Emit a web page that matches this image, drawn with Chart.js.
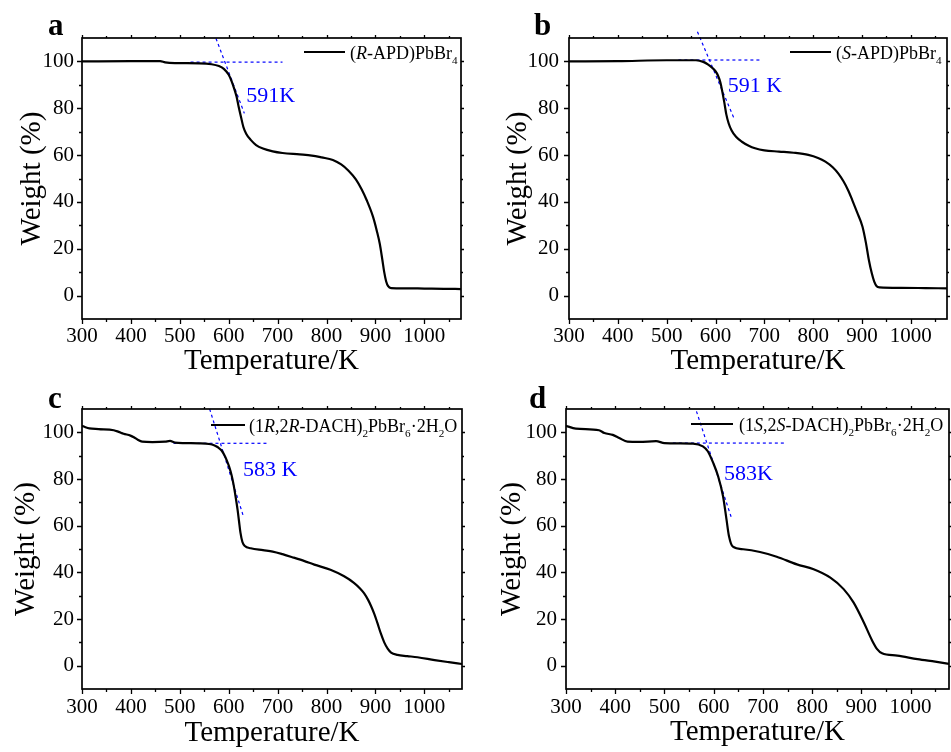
<!DOCTYPE html>
<html><head><meta charset="utf-8">
<script src="https://cdn.jsdelivr.net/npm/chart.js@4/dist/chart.umd.min.js"></script>
<style>
html,body{margin:0;padding:0;background:#fff;width:951px;height:752px;overflow:hidden}
canvas{position:absolute}
</style></head><body>
<canvas id="pa" style="left:0;top:0" width="476" height="400"></canvas>
<canvas id="pb" style="left:476px;top:0" width="475" height="400"></canvas>
<canvas id="pc" style="left:0;top:376px" width="476" height="376"></canvas>
<canvas id="pd" style="left:476px;top:376px" width="475" height="376"></canvas>
<script>
// ---------- text ----------
const xAxisTitle = 'Temperature/K';
const yAxisTitle = 'Weight (%)';
const xTickValues = [300, 400, 500, 600, 700, 800, 900, 1000];
const yTickValues = [0, 20, 40, 60, 80, 100];
const panelLetters = ['a', 'b', 'c', 'd'];
const legendLabels = [
  '(<i>R</i>-APD)PbBr<sub>4</sub>',
  '(<i>S</i>-APD)PbBr<sub>4</sub>',
  '(1<i>R</i>,2<i>R</i>-DACH)<sub>2</sub>PbBr<sub>6</sub>·2H<sub>2</sub>O',
  '(1<i>S</i>,2<i>S</i>-DACH)<sub>2</sub>PbBr<sub>6</sub>·2H<sub>2</sub>O'
];
const onsetLabels = ['591K', '591 K', '583 K', '583K'];

// ---------- panel a : (R-APD)PbBr4 ----------
const tempA   = [300,400,460,470,490,540,565,580,590,600,606,611,616,620,625,630,636,645,656,670,690,710,745,770,790,813,830,845,860,872,882,895,903,909,914,918,922,926,932,960,1000,1040,1075];
const weightA = [100.0,100.1,100.1,99.6,99.3,99.2,98.8,98.0,96.8,94.3,91.5,88.5,85.0,81.0,76.4,72.0,69.0,66.5,64.3,62.8,61.6,60.9,60.3,59.8,59.0,57.9,56.0,53.3,49.6,45.3,40.8,33.7,27.5,22.0,15.5,10.0,6.0,4.0,3.2,3.1,3.0,2.9,2.8];
const flatTanA_T = [522, 710];  const flatTanA_W = [99.7, 99.7];
const slopeTanA_T = [574, 632]; const slopeTanA_W = [109.8, 77.8];
const onsetA_at = [636, 82.8];

// ---------- panel b : (S-APD)PbBr4 ----------
const tempB   = [300,400,500,560,575,585,593,600,605,610,614,618,622,627,633,642,654,668,681,700,730,760,790,810,825,840,852,862,872,880,890,901,908,914,920,925,930,936,980,1030,1074];
const weightB = [100.0,100.1,100.5,100.5,99.8,98.6,97.3,95.8,94.0,91.0,87.0,82.5,77.5,73.5,70.5,67.8,65.7,64.0,62.9,62.0,61.5,61.0,60.1,58.8,57.2,54.8,52.0,48.8,44.8,40.8,35.5,29.4,22.5,15.2,9.5,6.0,4.0,3.5,3.3,3.2,3.1];
const flatTanB_T = [524, 692];  const flatTanB_W = [100.6, 100.6];
const slopeTanB_T = [563, 637]; const slopeTanB_W = [112.7, 76.1];
const onsetB_at = [625, 87.0];

// ---------- panel c : (1R,2R-DACH)2PbBr6·2H2O ----------
const tempC   = [300,307,315,334,365,375,385,399,406,414,423,444,470,480,490,510,540,560,570,578,585,591,596,601,606,610,614,618,621,624,628,633,645,670,690,710,733,755,775,808,836,856,868,877,885,891,898,904,911,918,925,932,945,965,986,1021,1050,1077];
const weightC = [102.8,102.2,101.7,101.4,100.9,100.2,99.4,98.6,97.9,96.8,96.0,95.8,96.0,96.3,95.6,95.4,95.3,95.0,94.5,93.6,92.3,90.3,88.0,85.2,81.5,77.5,72.5,67.0,62.0,57.0,53.0,51.3,50.3,49.5,48.9,47.8,46.3,44.8,43.3,41.1,38.3,35.5,33.2,31.0,28.2,25.6,22.0,18.3,13.8,10.0,7.3,5.6,4.6,4.1,3.6,2.4,1.5,0.7];
const flatTanC_T = [487, 682];  const flatTanC_W = [95.3, 95.3];
const slopeTanC_T = [561, 630]; const slopeTanC_W = [110.0, 64.0];
const onsetC_at = [629, 81.5];

// ---------- panel d : (1S,2S-DACH)2PbBr6·2H2O ----------
const tempD   = [300,320,367,378,395,408,425,449,483,500,530,558,578,588,599,609,619,626,631,639,660,694,728,769,803,837,864,884,905,922,932,942,973,1014,1050,1078];
const weightD = [102.8,101.6,100.9,99.7,98.9,97.6,96.0,95.9,96.2,95.4,95.3,95.2,94.0,91.9,86.9,81.2,72.6,62.7,55.6,51.0,49.9,48.7,46.7,43.4,41.3,37.7,32.8,27.1,18.5,10.7,7.1,5.3,4.3,2.8,1.7,0.8];
const flatTanD_T = [517, 748];  const flatTanD_W = [95.4, 95.4];
const slopeTanD_T = [565, 636]; const slopeTanD_W = [109.0, 63.4];
const onsetD_at = [621, 79.5];

// ---------- drawing ----------
const SERIF = '"Liberation Serif", "Times New Roman", serif';
Chart.defaults.font.family = SERIF;
Chart.defaults.color = '#000';

function pts(T, W) { return T.map((t, i) => ({ x: t, y: W[i] })); }

function drawRich(ctx, markup, x, y, size) {
  const parts = markup.split(/(<\/?i>|<\/?sub>)/);
  let italic = false, sub = false;
  for (const p of parts) {
    if (p === '<i>') { italic = true; continue; }
    if (p === '</i>') { italic = false; continue; }
    if (p === '<sub>') { sub = true; continue; }
    if (p === '</sub>') { sub = false; continue; }
    if (!p) continue;
    const fs = sub ? size * 0.62 : size;
    ctx.font = (italic ? 'italic ' : '') + fs + 'px ' + SERIF;
    ctx.fillText(p, x, sub ? y + size * 0.3 : y);
    x += ctx.measureText(p).width;
  }
}

const decor = {
  id: 'decor',
  afterDatasetsDraw(chart, args, o) {
    const ctx = chart.ctx, xs = chart.scales.x, ys = chart.scales.y;
    ctx.save();
    ctx.fillStyle = '#0000ff';
    ctx.font = '22px ' + SERIF;
    ctx.textBaseline = 'alphabetic';
    ctx.textAlign = 'left';
    ctx.fillText(o.onsetText, xs.getPixelForValue(o.onsetAt[0]), ys.getPixelForValue(o.onsetAt[1]));
    ctx.restore();
  },
  afterDraw(chart, args, o) {
    const ctx = chart.ctx, a = chart.chartArea, xs = chart.scales.x, ys = chart.scales.y;
    ctx.save();
    ctx.strokeStyle = '#000';
    ctx.lineWidth = 1.3;
    ctx.beginPath();
    for (let t = 300; t <= xs.max + 0.01; t += 50) {
      const px = Math.round(xs.getPixelForValue(t)) + 0.5;
      const major = t % 100 === 0;
      ctx.moveTo(px, a.bottom); ctx.lineTo(px, a.bottom + (major ? 5 : 3));
      ctx.moveTo(px, a.top); ctx.lineTo(px, a.top - (major ? 3 : 2));
    }
    for (let w = 0; w <= 100; w += 10) {
      const py = Math.round(ys.getPixelForValue(w)) + 0.5;
      const major = w % 20 === 0;
      ctx.moveTo(a.left, py); ctx.lineTo(a.left - (major ? 5 : 3), py);
      ctx.moveTo(a.right, py); ctx.lineTo(a.right + (major ? 3 : 2), py);
    }
    ctx.stroke();
    ctx.lineWidth = 1.7;
    ctx.strokeRect(a.left, a.top, a.right - a.left, a.bottom - a.top);
    // legend
    ctx.lineWidth = 2.2;
    ctx.beginPath();
    ctx.moveTo(o.legX0, o.legY); ctx.lineTo(o.legX1, o.legY);
    ctx.stroke();
    ctx.fillStyle = '#000';
    ctx.textBaseline = 'alphabetic';
    ctx.textAlign = 'left';
    drawRich(ctx, o.legendText, o.legTextX, o.legY + 6.5, 18);
    // panel letter
    ctx.font = 'bold 31px ' + SERIF;
    ctx.fillText(o.letter, o.letX, o.letY);
    ctx.restore();
  }
};

function makePanel(id, p) {
  const dashed = (T, W) => ({
    data: pts(T, W), borderColor: '#0000ff', borderWidth: 1.2, borderDash: [3, 3],
    pointRadius: 0, fill: false, clip: false, tension: 0
  });
  new Chart(document.getElementById(id), {
    type: 'line',
    data: {
      datasets: [
        { data: pts(p.T, p.W), borderColor: '#000', borderWidth: 2.2, pointRadius: 0,
          cubicInterpolationMode: 'monotone', fill: false },
        dashed(p.fT, p.fW),
        dashed(p.sT, p.sW)
      ]
    },
    options: {
      responsive: false, animation: false, devicePixelRatio: 1,
      layout: { padding: { left: 0, top: p.padTop, right: p.padRight, bottom: p.padBottom } },
      plugins: {
        legend: { display: false }, tooltip: { enabled: false },
        decor: {
          onsetText: p.onset, onsetAt: p.onsetAt, legendText: p.legend,
          legX0: p.legX0, legX1: p.legX1, legY: p.legY, legTextX: p.legTextX,
          letter: p.letter, letX: p.letX, letY: p.letY
        }
      },
      scales: {
        x: {
          type: 'linear', min: 300, max: p.xmax,
          grid: { display: false, drawTicks: false }, border: { display: false },
          afterBuildTicks: ax => { ax.ticks = xTickValues.map(v => ({ value: v })); },
          afterFit: ax => { ax.height = p.xAxisH; },
          ticks: { font: { size: 21 }, color: '#000', padding: p.xTickPad, maxRotation: 0, autoSkip: false,
                   callback: v => String(v) },
          title: { display: true, text: xAxisTitle, color: '#000',
                   font: { size: 29, lineHeight: 1 }, padding: { top: 0, bottom: p.xTitlePad } }
        },
        y: {
          type: 'linear', min: -10, max: 110,
          grid: { display: false, drawTicks: false }, border: { display: false },
          afterBuildTicks: ax => { ax.ticks = yTickValues.map(v => ({ value: v })); },
          afterFit: ax => { ax.width = p.yAxisW; },
          ticks: { font: { size: 21 }, color: '#000', padding: p.yTickPad, callback: v => String(v) },
          title: { display: true, text: yAxisTitle, color: '#000',
                   font: { size: 29, lineHeight: 1 }, padding: { top: p.yTitlePad, bottom: 0 } }
        }
      }
    },
    plugins: [decor]
  });
}

makePanel('pa', {
  T: tempA, W: weightA, fT: flatTanA_T, fW: flatTanA_W, sT: slopeTanA_T, sW: slopeTanA_W,
  onset: onsetLabels[0], onsetAt: onsetA_at, legend: legendLabels[0], letter: panelLetters[0],
  xmax: 1075, padTop: 38, padRight: 15, padBottom: 24, xAxisH: 57, yAxisW: 82,
  xTickPad: 5, yTickPad: 8, xTitlePad: 0, yTitlePad: 17.5,
  legX0: 304, legX1: 345, legY: 52, legTextX: 350, letX: 48, letY: 35
});
makePanel('pb', {
  T: tempB, W: weightB, fT: flatTanB_T, fW: flatTanB_W, sT: slopeTanB_T, sW: slopeTanB_W,
  onset: onsetLabels[1], onsetAt: onsetB_at, legend: legendLabels[1], letter: panelLetters[1],
  xmax: 1074, padTop: 38, padRight: 4, padBottom: 24, xAxisH: 57, yAxisW: 93,
  xTickPad: 5, yTickPad: 10, xTitlePad: 0, yTitlePad: 27.5,
  legX0: 314, legX1: 355, legY: 52, legTextX: 360, letX: 58, letY: 35
});
makePanel('pc', {
  T: tempC, W: weightC, fT: flatTanC_T, fW: flatTanC_W, sT: slopeTanC_T, sW: slopeTanC_W,
  onset: onsetLabels[2], onsetAt: onsetC_at, legend: legendLabels[2], letter: panelLetters[2],
  xmax: 1077, padTop: 33, padRight: 14, padBottom: 0, xAxisH: 63, yAxisW: 82,
  xTickPad: 6, yTickPad: 8, xTitlePad: 4, yTitlePad: 11.7,
  legX0: 211, legX1: 245, legY: 49, legTextX: 249, letX: 48, letY: 32
});
makePanel('pd', {
  T: tempD, W: weightD, fT: flatTanD_T, fW: flatTanD_W, sT: slopeTanD_T, sW: slopeTanD_W,
  onset: onsetLabels[3], onsetAt: onsetD_at, legend: legendLabels[3], letter: panelLetters[3],
  xmax: 1078, padTop: 33, padRight: 2, padBottom: 0, xAxisH: 63, yAxisW: 90,
  xTickPad: 6, yTickPad: 9, xTitlePad: 5.5, yTitlePad: 21.7,
  legX0: 215, legX1: 257, legY: 48, legTextX: 263, letX: 53, letY: 32
});
</script>
</body></html>
